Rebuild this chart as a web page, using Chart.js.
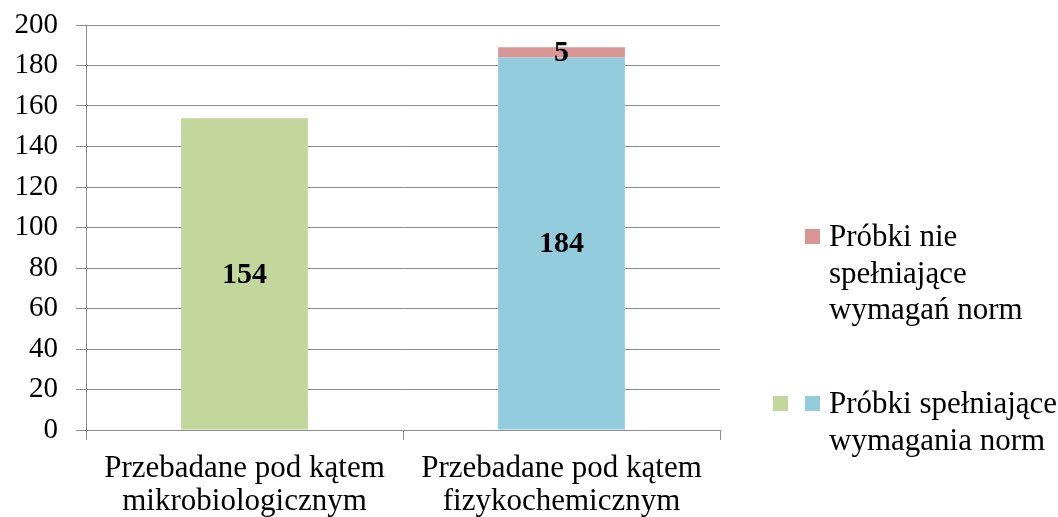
<!DOCTYPE html>
<html lang="pl">
<head>
<meta charset="UTF-8">
<script src="https://cdn.jsdelivr.net/npm/chart.js"></script>
<title>Próbki</title>
<style>
    body { margin: 0; background: #fff; }
    #wrap { width: 1058px; height: 517px; }
</style>
</head>
<body>
<div id="wrap"><canvas id="chart" width="1058" height="517"></canvas></div>
<script>
    const categories = [
        ['Przebadane pod kątem', 'mikrobiologicznym'],
        ['Przebadane pod kątem', 'fizykochemicznym']
    ];
    const passMicro = [154, null];
    const passPhysChem = [null, 184];
    const failed = [null, 5];
    const yTicks = [0, 20, 40, 60, 80, 100, 120, 140, 160, 180, 200];
    const failLabel = ['Próbki nie', 'spełniające', 'wymagań norm'];
    const passLabel = ['Próbki spełniające', 'wymagania norm'];

    const FONT = '"Liberation Serif", "Times New Roman", serif';
    const GRID = '#8c8c8c';

    // value in the middle of each bar segment
    const barLabels = {
        id: 'barLabels',
        afterDatasetsDraw(chart) {
            const ctx = chart.ctx;
            ctx.save();
            ctx.font = 'bold 30px ' + FONT;
            ctx.fillStyle = '#000';
            ctx.textAlign = 'center';
            ctx.textBaseline = 'middle';
            chart.data.datasets.forEach((ds, i) => {
                chart.getDatasetMeta(i).data.forEach((bar, j) => {
                    const v = ds.data[j];
                    if (v == null) return;
                    const p = bar.getCenterPoint();
                    ctx.fillText(String(v), p.x, p.y + 1);
                });
            });
            ctx.restore();
        }
    };

    // legend on the right: red entry, then green + blue entry
    const sideLegend = {
        id: 'sideLegend',
        afterDraw(chart) {
            const ctx = chart.ctx;
            const ds = chart.data.datasets;
            ctx.save();
            ctx.font = '31px ' + FONT;
            ctx.fillStyle = '#000';
            ctx.textBaseline = 'middle';
            const lh = 36.5;

            ctx.fillStyle = ds[2].backgroundColor;
            ctx.fillRect(805, 229, 15, 15);
            ctx.fillStyle = '#000';
            failLabel.forEach((t, k) => ctx.fillText(t, 829, 238 + k * lh));

            ctx.fillStyle = ds[0].backgroundColor;
            ctx.fillRect(773, 396, 15, 15);
            ctx.fillStyle = ds[1].backgroundColor;
            ctx.fillRect(805, 396, 15, 15);
            ctx.fillStyle = '#000';
            passLabel.forEach((t, k) => ctx.fillText(t, 829, 405 + k * lh));
            ctx.restore();
        }
    };

    function noPad(s) {
        s.paddingTop = 0; s.paddingBottom = 0; s.paddingLeft = 0; s.paddingRight = 0;
    }

    new Chart(document.getElementById('chart'), {
        type: 'bar',
        data: {
            labels: categories,
            datasets: [
                { label: '', data: passMicro, backgroundColor: '#C3D69B' },
                { label: passLabel.join(' '), data: passPhysChem, backgroundColor: '#93CDDD' },
                { label: failLabel.join(' '), data: failed, backgroundColor: '#D99694' }
            ]
        },
        options: {
            responsive: false,
            animation: false,
            layout: { padding: { top: 25, right: 338, left: 0, bottom: 0 } },
            datasets: { bar: { categoryPercentage: 0.8, barPercentage: 0.5 } },
            plugins: { legend: { display: false }, tooltip: { enabled: false } },
            scales: {
                x: {
                    stacked: true,
                    afterFit(s) { s.height = 87; noPad(s); },
                    grid: { drawOnChartArea: false, tickLength: 10, color: GRID },
                    border: { color: GRID },
                    ticks: { color: '#000', font: { family: FONT, size: 31, lineHeight: 1.07 }, padding: 12 }
                },
                y: {
                    stacked: true,
                    min: 0,
                    max: 200,
                    afterFit(s) { s.width = 86; noPad(s); },
                    afterBuildTicks(s) { s.ticks = yTicks.map(v => ({ value: v })); },
                    grid: { color: GRID, tickLength: 10 },
                    border: { color: GRID },
                    ticks: { color: '#000', font: { family: FONT, size: 29 }, padding: 18 }
                }
            }
        },
        plugins: [barLabels, sideLegend]
    });
</script>
</body>
</html>
